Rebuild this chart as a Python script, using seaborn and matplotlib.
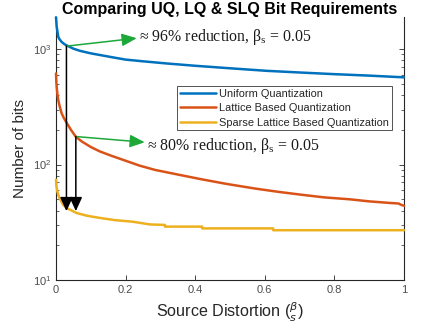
import numpy as np
import pandas as pd
import matplotlib
matplotlib.use("Agg")
import matplotlib.pyplot as plt
import seaborn as sns
from matplotlib.ticker import LogLocator, NullFormatter, FixedLocator

# ---- data ----
beta_uq = [0.0, 0.002, 0.0066, 0.01, 0.016, 0.025, 0.035, 0.05, 0.069, 0.1, 0.155, 0.2, 0.25,
           0.318, 0.4, 0.5, 0.606, 0.7, 0.797, 0.9, 1.0]
bits_uq = [1890, 1560, 1278, 1220, 1157, 1100, 1062, 1010, 967, 920, 858, 812, 785,
           752, 718, 683, 649, 628, 608, 590, 570]

beta_lq = [0.0, 0.001, 0.002, 0.004, 0.0066, 0.01, 0.016, 0.022, 0.031, 0.043, 0.057, 0.075,
           0.1, 0.126, 0.16, 0.2, 0.24, 0.284, 0.35, 0.414, 0.49, 0.572, 0.64, 0.701, 0.77,
           0.845, 0.9, 0.96, 0.985, 0.99, 1.0]
bits_lq = [616, 520, 470, 410, 361, 325, 279, 255, 229, 200, 174, 158,
           142, 130, 119, 108, 98, 90, 82, 75, 68, 62, 58, 55, 52,
           50, 48, 46.5, 46, 45, 44]

beta_slq = [0.0, 0.001, 0.003, 0.007, 0.012, 0.02, 0.03, 0.045, 0.06, 0.09, 0.126, 0.17, 0.22,
            0.27, 0.313, 0.313, 0.42, 0.42, 0.624, 0.624, 1.0]
bits_slq = [74, 66, 60, 54, 50, 45, 42, 40, 38, 36, 34.5, 33, 32,
            30.3, 30, 29, 29, 28, 28, 27, 27]

labels = ["Uniform Quantization", "Lattice Based Quantization", "Sparse Lattice Based Quantization"]
colors = ["#0072BD", "#D95319", "#EDB120"]

x_ticks = [0, 0.2, 0.4, 0.6, 0.8, 1]
x_ticklabels = ["0", "0.2", "0.4", "0.6", "0.8", "1"]

# annotation anchor points (data coords)
ann1_start = (0.03, 1062)
ann1_tip = (0.232, 1245)
ann1_text = (0.238, 1265)
ann2_start = (0.057, 175)
ann2_tip = (0.255, 156)
ann2_text = (0.261, 146)
arrow_bottom = 39.5

sns.set_theme(style="white")
plt.rcParams['font.family'] = ['Liberation Sans', 'DejaVu Sans']
plt.rcParams['mathtext.fontset'] = 'dejavusans'

fig = plt.figure(figsize=(4.31, 3.31), dpi=100)
ax = fig.add_axes([56/431, 1-280/331, (404-56)/431, (280-17)/331])

frames = []
for b, v, lab in [(beta_uq, bits_uq, labels[0]), (beta_lq, bits_lq, labels[1]), (beta_slq, bits_slq, labels[2])]:
    frames.append(pd.DataFrame({"beta": b, "bits": v, "method": lab}))
df = pd.concat(frames, ignore_index=True)

sns.lineplot(data=df, x="beta", y="bits", hue="method", palette=colors, hue_order=labels,
             estimator=None, sort=False, units="method", linewidth=1.8, ax=ax, legend=True)
for ln in ax.get_lines():
    ln.set_clip_on(False)
    ln.set_zorder(3)

ax.set_yscale("log")
ax.set_xlim(0, 1)
ax.set_ylim(10, 1900)

ax.xaxis.set_major_locator(FixedLocator(x_ticks))
ax.set_xticklabels(x_ticklabels)
ax.yaxis.set_major_locator(LogLocator(base=10, numticks=10))
ax.yaxis.set_minor_locator(LogLocator(base=10, subs=np.arange(2, 10), numticks=20))
ax.yaxis.set_minor_formatter(NullFormatter())

ax.tick_params(axis="both", which="both", direction="in", colors="#262626", labelcolor="#4d4d4d",
               labelsize=8, right=True, left=True, bottom=True, top=False)
ax.tick_params(axis="both", which="major", length=3.5, width=0.6)
ax.tick_params(axis="y", which="minor", length=2.2, width=0.5)
for s in ["left", "right", "bottom"]:
    ax.spines[s].set_color("#262626")
    ax.spines[s].set_linewidth(0.8)
    ax.spines[s].set_zorder(2)
ax.spines["top"].set_visible(False)

ax.set_xlabel(r"Source Distortion ($^{\beta}_{s}$)", fontsize=11.6, color="#262626", labelpad=4)
ax.set_ylabel("Number of bits", fontsize=11, color="#262626", labelpad=4)
ax.set_title("Comparing UQ, LQ & SLQ Bit Requirements", fontsize=11.5, fontweight="bold",
             color="black", pad=0)

green = "#1EA83A"
arr_kw = dict(arrowstyle="-|>,head_length=0.75,head_width=0.32", color=green, lw=1.1, shrinkA=0, shrinkB=0)
ax.annotate("", xy=ann1_tip, xytext=ann1_start, arrowprops=arr_kw)
ax.annotate("", xy=ann2_tip, xytext=ann2_start, arrowprops=arr_kw)
blk_kw = dict(arrowstyle="-|>,head_length=0.7,head_width=0.32", color="black", lw=1.1, shrinkA=0, shrinkB=0)
ax.annotate("", xy=(ann1_start[0], arrow_bottom), xytext=ann1_start, arrowprops=blk_kw)
ax.annotate("", xy=(ann2_start[0], arrow_bottom), xytext=ann2_start, arrowprops=blk_kw)

ax.text(ann1_text[0], ann1_text[1], r"≈ 96% reduction, β$_\mathregular{s}$ = 0.05", fontsize=11.4,
        family="Liberation Serif", va="center", ha="left", color="#1a1a1a")
ax.text(ann2_text[0], ann2_text[1], r"≈ 80% reduction, β$_\mathregular{s}$ = 0.05", fontsize=11.4,
        family="Liberation Serif", va="center", ha="left", color="#1a1a1a")

leg = ax.legend(loc="upper left", bbox_to_anchor=((177-56)/348, 1-(86-17)/263), fontsize=7.9,
                frameon=True, fancybox=False, edgecolor="#262626", handlelength=3.3,
                handletextpad=0.3, borderpad=0.25, labelspacing=0.4, borderaxespad=0)
leg.get_frame().set_linewidth(0.7)
for line in leg.get_lines():
    line.set_linewidth(1.8)

fig.savefig("out.png", dpi=100)
